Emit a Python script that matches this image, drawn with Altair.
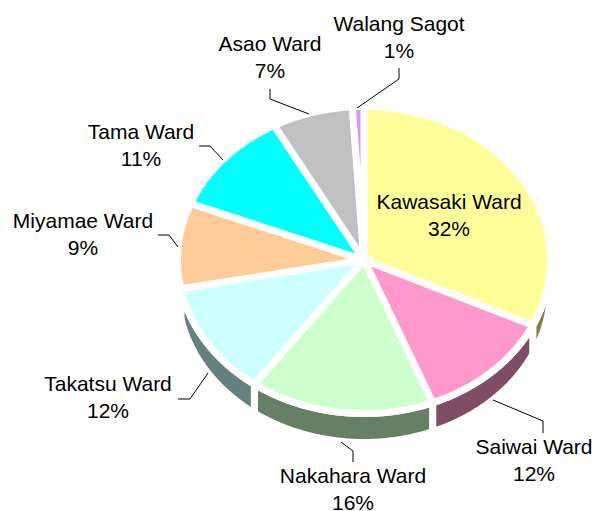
import numpy as np
import pandas as pd
import altair as alt

names = ["Kawasaki Ward", "Saiwai Ward", "Nakahara Ward", "Takatsu Ward",
         "Miyamae Ward", "Tama Ward", "Asao Ward", "Walang Sagot"]
shares = [32, 12, 16, 12, 9, 11, 7, 1]
top_colors = ["#FFFF99", "#FF99CC", "#CCFFCC", "#CCFFFF", "#FFCC99", "#00FFFF", "#C0C0C0", "#CC99FF"]
side_colors = ["#80804D", "#804D66", "#668066", "#668080", "#806640", "#008080", "#606060", "#664D80"]

label_x = [449, 534, 353, 108, 83, 141, 270, 399]
label_y = [203, 448, 477, 385, 222, 133, 45, 25]

leader_names = ["Saiwai Ward", "Nakahara Ward", "Takatsu Ward", "Miyamae Ward", "Tama Ward", "Asao Ward", "Walang Sagot"]
leader_x = [[543, 543, 493], [353, 353, 341], [178, 190, 208], [158, 169, 178], [199, 210, 223], [270, 270, 309], [399, 399, 357]]
leader_y = [[433, 421, 400], [462, 451, 442], [399, 399, 373], [235, 235, 247], [146, 146, 160], [89, 99, 114], [68, 79, 108]]

CX, CY, RX, RY, DEPTH = 364.0, 260.0, 186.5, 153.5, 29.0
FONT = "Liberation Sans"
FS = 21

def pt(t, dy=0.0):
    r = np.radians(t)
    return CX + RX * np.sin(r), CY - RY * np.cos(r) + dy

tops, sides = [], []
cum = 0.0
for n, s in zip(names, shares):
    a, b = cum * 3.6, (cum + s) * 3.6
    cum += s
    ts = np.linspace(a, b, max(4, int(s * 6)))
    pts = [(CX, CY)] + [pt(t) for t in ts] + [(CX, CY), pt(ts[0])]
    tops += [dict(name=n, i=i, x=p[0], y=p[1]) for i, p in enumerate(pts)]
    lo, hi = max(a, 90.0), min(b, 270.0)
    if lo < hi:
        ts = np.linspace(lo, hi, max(4, int((hi - lo) * 2)))
        pts = [pt(t) for t in ts] + [pt(t, DEPTH) for t in ts[::-1]]
        pts = pts + pts[:2]
        sides += [dict(name=n, i=i, x=p[0], y=p[1]) for i, p in enumerate(pts)]

leaders = []
for n, xs, ys in zip(leader_names, leader_x, leader_y):
    leaders += [dict(name=n, i=i, x=x, y=y) for i, (x, y) in enumerate(zip(xs, ys))]

labels = []
for n, s, x, y in zip(names, shares, label_x, label_y):
    labels.append(dict(x=x, y=y, t=n))
    labels.append(dict(x=x, y=y + 27, t=f"{s}%"))

W, H = 586, 503
xs = alt.Scale(domain=[8, 8 + W], range=[0, W])
ys = alt.Scale(domain=[8, 8 + H], range=[0, H])
X = alt.X("x:Q", scale=xs, axis=None)
Y = alt.Y("y:Q", scale=ys, axis=None)

def polys(rows, colors):
    return alt.Chart(pd.DataFrame(rows)).mark_line(
        stroke="white", strokeWidth=7, strokeJoin="miter", strokeMiterLimit=10, clip=False
    ).encode(
        x=X, y=Y, order="i:Q",
        fill=alt.Fill("name:N", scale=alt.Scale(domain=names, range=colors), legend=None),
    )

side_layer = polys(sides, side_colors)
top_layer = polys(tops, top_colors)
leader_layer = alt.Chart(pd.DataFrame(leaders)).mark_line(color="black", strokeWidth=1).encode(
    x=X, y=Y, order="i:Q", detail="name:N")
text_layer = alt.Chart(pd.DataFrame(labels)).mark_text(
    font=FONT, fontSize=FS, color="black", align="center", baseline="middle"
).encode(x=X, y=Y, text="t:N")

chart = alt.layer(side_layer, top_layer, leader_layer, text_layer).resolve_scale(
    fill="independent"
).properties(
    width=W, height=H, padding=0, autosize=alt.AutoSizeParams(type="none")
).configure_view(stroke=None)

chart.save("out.html", embed_options={"renderer": "svg", "actions": False})
